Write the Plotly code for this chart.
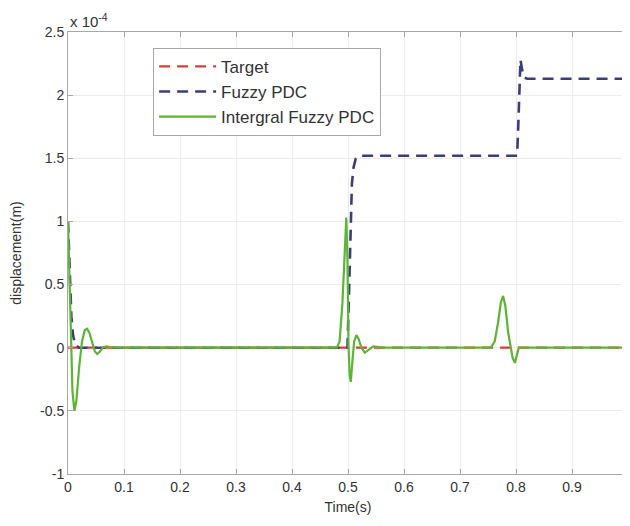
import plotly.graph_objects as go

# Displacement values in units of 1e-4 m (axis shows "x 10^-4")
target_t = [0.0, 1.0]
target_y = [0.0, 0.0]

fuzzy_t = [0.0, 0.002, 0.004, 0.006, 0.009, 0.013, 0.02, 0.499, 0.501, 0.503,
           0.505, 0.507, 0.51, 0.514, 0.52, 0.80, 0.802, 0.804, 0.806, 0.808,
           0.811, 0.814, 0.82, 1.0]
fuzzy_y = [1.0, 0.7, 0.45, 0.25, 0.1, 0.02, 0.0, 0.0, 0.3, 0.7,
           1.05, 1.3, 1.43, 1.5, 1.52, 1.52, 1.52, 1.75, 2.05, 2.28,
           2.2, 2.14, 2.13, 2.13]

ifuzzy_t = [0.0, 0.002, 0.005, 0.008, 0.0115, 0.015, 0.02, 0.025, 0.03, 0.034,
            0.038, 0.043, 0.048, 0.052, 0.057, 0.062, 0.068, 0.075, 0.085,
            0.48, 0.485, 0.49, 0.494, 0.497, 0.499, 0.501, 0.503, 0.505, 0.508,
            0.511, 0.515, 0.519, 0.524, 0.53, 0.536, 0.545, 0.555, 0.565,
            0.755, 0.762, 0.768, 0.773, 0.777, 0.781, 0.786, 0.79, 0.794,
            0.798, 0.801, 0.805, 1.0]
ifuzzy_y = [1.0, 0.6, 0.0, -0.35, -0.5, -0.42, -0.15, 0.05, 0.14, 0.15,
            0.12, 0.04, -0.03, -0.05, -0.03, 0.0, 0.01, 0.005, 0.0,
            0.0, 0.05, 0.35, 0.75, 1.03, 0.7, 0.0, -0.22, -0.27, -0.1,
            0.05, 0.1, 0.07, 0.0, -0.04, -0.02, 0.01, 0.005, 0.0,
            0.0, 0.05, 0.2, 0.36, 0.41, 0.33, 0.12, 0.0, -0.08,
            -0.12, -0.06, 0.0, 0.0]

x_ticks = [0, 0.1, 0.2, 0.3, 0.4, 0.5, 0.6, 0.7, 0.8, 0.9, 1]
x_labels = ["0", "0.1", "0.2", "0.3", "0.4", "0.5", "0.6", "0.7", "0.8", "0.9", "1"]
y_ticks = [-1, -0.5, 0, 0.5, 1, 1.5, 2, 2.5]
y_labels = ["-1", "-0.5", "0", "0.5", "1", "1.5", "2", "2.5"]

FONT = "Liberation Sans, Arial, sans-serif"

fig = go.Figure()
fig.add_trace(go.Scatter(x=target_t, y=target_y, mode="lines", name="Target",
                         line=dict(color="#e03a3a", width=2.2, dash="11px,7px")))
fig.add_trace(go.Scatter(x=fuzzy_t, y=fuzzy_y, mode="lines", name="Fuzzy PDC",
                         line=dict(color="#3b3f78", width=2.6, dash="11px,7px")))
fig.add_trace(go.Scatter(x=ifuzzy_t, y=ifuzzy_y, mode="lines", name="Intergral Fuzzy PDC",
                         line=dict(color="#5cb533", width=2.2)))

axis_common = dict(showline=True, linecolor="#a8a8a8", linewidth=1, mirror="allticks",
                   ticks="inside", ticklen=5, tickcolor="#a8a8a8", automargin=False,
                   showgrid=True, gridcolor="#ebebeb", gridwidth=1, zeroline=False,
                   tickfont=dict(family=FONT, size=14, color="#333333"))

# The page body adds an 8px offset, so the figure is sized 8px smaller and placed accordingly
fig.update_layout(
    width=622, height=518,
    margin=dict(l=60, r=2, t=24, b=52),
    paper_bgcolor="white", plot_bgcolor="white",
    font=dict(family=FONT, size=14, color="#333333"),
    showlegend=True,
    legend=dict(x=0.152, y=0.964, xanchor="left", yanchor="top",
                bgcolor="white", bordercolor="#a8a8a8", borderwidth=1,
                font=dict(family=FONT, size=17, color="#333333"),
                tracegroupgap=0, itemwidth=57),
    xaxis=dict(range=[0, 1], tickvals=x_ticks, ticktext=x_labels,
               title=dict(text="Time(s)", standoff=8, font=dict(size=14)),
               **axis_common),
    yaxis=dict(range=[-1, 2.5], tickvals=y_ticks, ticktext=y_labels,
               title=dict(text="displacement(m)", standoff=28, font=dict(size=14)),
               **axis_common),
    annotations=[dict(text="x 10<sup>-4</sup>", xref="paper", yref="paper",
                      x=0.0, y=1.0, xanchor="left", yanchor="bottom",
                      showarrow=False, font=dict(family=FONT, size=15, color="#333333"))],
)

fig.write_html("out.html")
